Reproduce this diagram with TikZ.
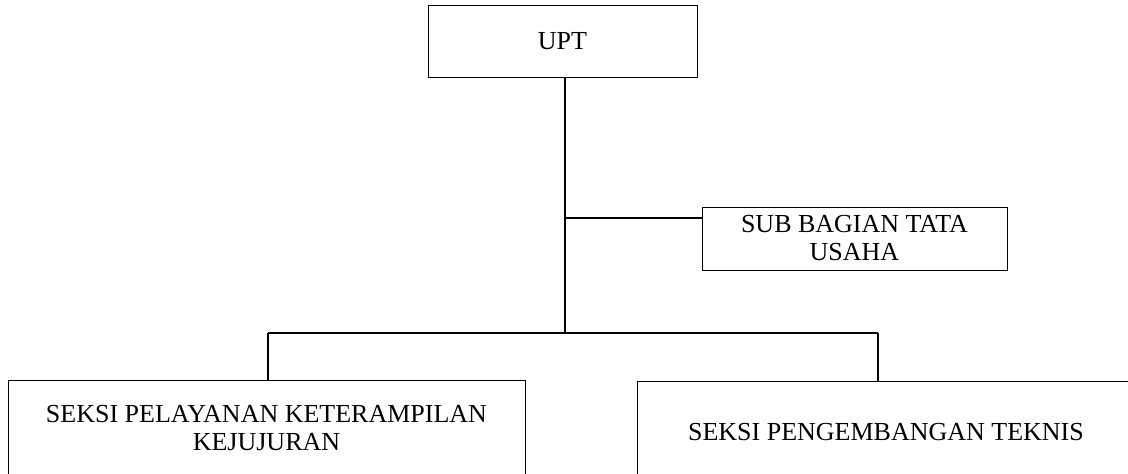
\documentclass[tikz,border=0pt]{standalone}
\usepackage{fontspec}
\setmainfont{Liberation Serif}
\usetikzlibrary{calc}

\begin{document}
\begin{tikzpicture}[x=1pt, y=-1pt,
  box/.style={draw, line width=0.9pt, align=center, inner sep=0pt,
    font=\fontsize{26}{28}\selectfont},
  link/.style={draw, line width=1.6pt}]
  \useasboundingbox (0,0) rectangle (1128,474);
  \clip (0,0) rectangle (1128,474);
  % boxes
  \node[box, minimum width=269, minimum height=72] (upt) at (562.5,41) {UPT};
  \node[box, minimum width=305, minimum height=63] (tu) at (854.5,238.5) {SUB BAGIAN TATA\\USAHA};
  \node[box, minimum width=517, minimum height=96] (pk) at (266.5,428) {SEKSI PELAYANAN KETERAMPILAN\\KEJUJURAN};
  \node[box, minimum width=498, minimum height=102] (pt) at (886,432) {SEKSI PENGEMBANGAN TEKNIS};
  % junctions
  \coordinate (bar) at (565,333);
  \coordinate (tujoint) at (565,218);
  \coordinate (pkdrop) at (268,333);
  \coordinate (ptdrop) at (878,333);
  % connectors
  \draw[link] (upt.south -| bar) -- (bar);
  \draw[link] (tujoint) -- (tujoint -| tu.west);
  \draw[link] (pkdrop) -- (ptdrop);
  \draw[link] (pkdrop) -- (pkdrop |- pk.north);
  \draw[link] (ptdrop) -- (ptdrop |- pt.north);
\end{tikzpicture}
\end{document}
